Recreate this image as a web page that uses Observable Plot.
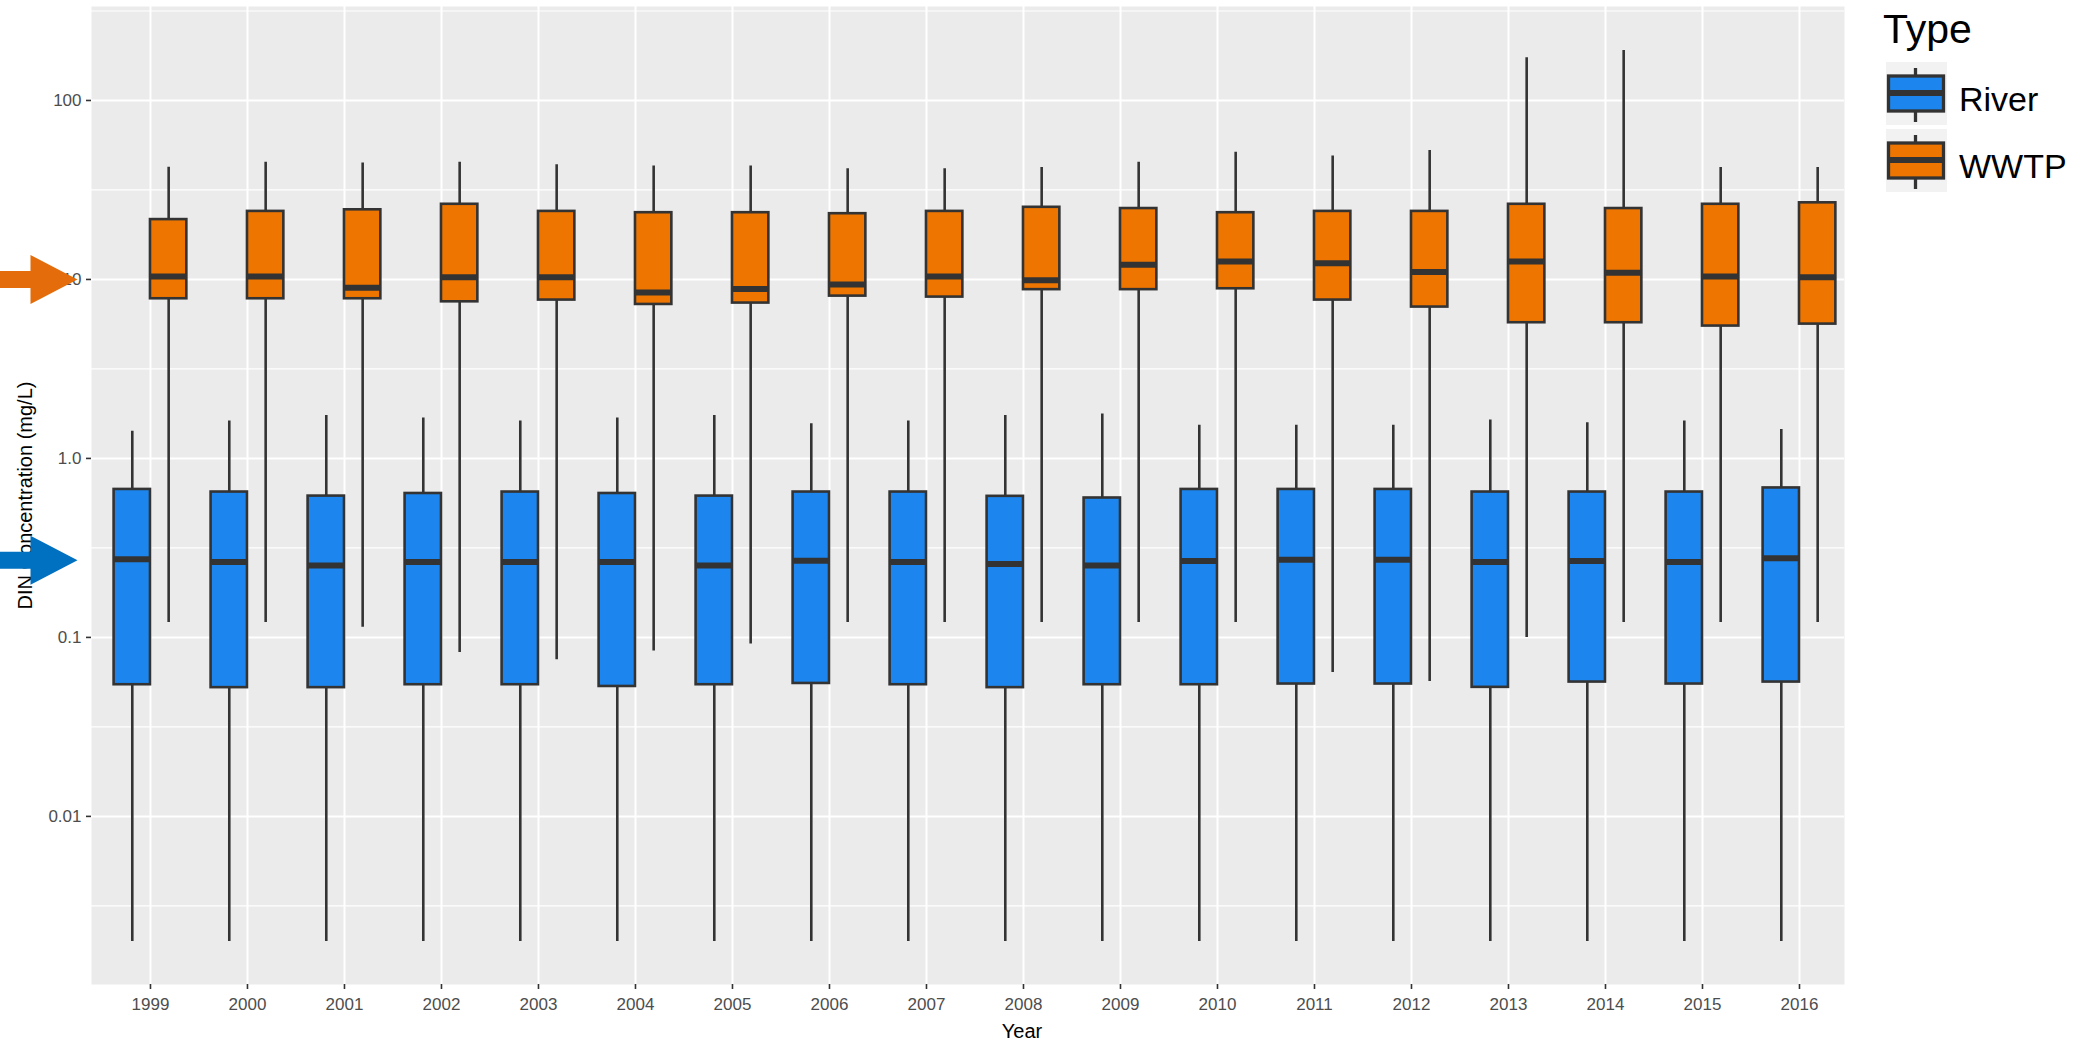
<!DOCTYPE html>
<html>
<head>
<meta charset="utf-8">
<script src="https://cdn.jsdelivr.net/npm/d3@7"></script>
<script src="https://cdn.jsdelivr.net/npm/@observablehq/plot@0.6"></script>
<style>
  body { margin: 0; background: #ffffff; }
  #wrap { position: relative; width: 2084px; height: 1043px; overflow: hidden;
          font-family: "Liberation Sans", Arial, sans-serif; }
</style>
</head>
<body>
<div id="wrap"></div>
<script>
// ---------- data ----------
const years = [1999, 2000, 2001, 2002, 2003, 2004, 2005, 2006, 2007, 2008,
               2009, 2010, 2011, 2012, 2013, 2014, 2015, 2016];
const types = ["River", "WWTP"];

const riverLow  = [0.002, 0.002, 0.002, 0.002, 0.002, 0.002, 0.002, 0.002, 0.002,
                   0.002, 0.002, 0.002, 0.002, 0.002, 0.002, 0.002, 0.002, 0.002];
const riverQ1   = [0.0544, 0.0524, 0.0524, 0.0544, 0.0544, 0.0532, 0.0544, 0.0553, 0.0544,
                   0.0524, 0.0544, 0.0544, 0.0549, 0.0549, 0.0526, 0.0563, 0.0549, 0.0563];
const riverMed  = [0.273, 0.264, 0.252, 0.264, 0.264, 0.264, 0.252, 0.268, 0.264,
                   0.257, 0.252, 0.267, 0.272, 0.272, 0.264, 0.267, 0.264, 0.277];
const riverQ3   = [0.671, 0.649, 0.616, 0.637, 0.649, 0.637, 0.616, 0.649, 0.649,
                   0.614, 0.601, 0.671, 0.671, 0.671, 0.649, 0.649, 0.649, 0.684];
const riverHigh = [1.42, 1.62, 1.74, 1.68, 1.62, 1.68, 1.74, 1.56, 1.62,
                   1.74, 1.77, 1.53, 1.53, 1.53, 1.64, 1.58, 1.62, 1.45];

const wwtpLow   = [0.121, 0.121, 0.114, 0.0824, 0.075, 0.084, 0.0918, 0.121, 0.121,
                   0.121, 0.121, 0.121, 0.0636, 0.0567, 0.1, 0.121, 0.121, 0.121];
const wwtpQ1    = [7.8, 7.8, 7.8, 7.5, 7.67, 7.25, 7.38, 8.07, 7.97,
                   8.77, 8.77, 8.87, 7.67, 7.01, 5.73, 5.73, 5.49, 5.63];
const wwtpMed   = [10.4, 10.4, 9.0, 10.3, 10.3, 8.46, 8.84, 9.38, 10.4,
                   9.9, 12.1, 12.6, 12.3, 11.0, 12.6, 10.9, 10.4, 10.3];
const wwtpQ3    = [21.6, 24.0, 24.5, 26.3, 24.0, 23.6, 23.6, 23.3, 24.0,
                   25.3, 24.9, 23.6, 24.0, 24.0, 26.3, 24.9, 26.3, 26.8];
const wwtpHigh  = [42.4, 45.2, 44.7, 45.2, 43.7, 43.0, 43.0, 41.5, 41.5,
                   42.2, 45.2, 51.4, 48.9, 52.6, 173, 190, 42.2, 42.2];

const yTicks      = [0.01, 0.1, 1, 10, 100];
const yTickLabels = ["0.01", "0.1", "1.0", "10", "100"];
const arrowValues = [0.27, 10];          // highlight arrows: River, WWTP
const xTitle = "Year";
const yTitle = "DIN Concentration (mg/L)";
const legendTitle = "Type";

// ---------- styling ----------
const typeColors  = ["#1C86EE", "#EE7600"];
const arrowColors = ["#0070C0", "#E46C0A"];
const dark = "#333333";

// ---------- build table ----------
const rows = [];
years.forEach((year, i) => {
  rows.push({year, type: "River", low: riverLow[i], q1: riverQ1[i], med: riverMed[i], q3: riverQ3[i], high: riverHigh[i]});
  rows.push({year, type: "WWTP",  low: wwtpLow[i],  q1: wwtpQ1[i],  med: wwtpMed[i],  q3: wwtpQ3[i],  high: wwtpHigh[i]});
});

const boxW = 0.375; // dodged box width (in year units)
const bx1 = d => d.type === "River" ? d.year - boxW : d.year;
const bx2 = d => d.type === "River" ? d.year : d.year + boxW;
const bxc = d => d.type === "River" ? d.year - boxW / 2 : d.year + boxW / 2;

const yMinor = [0.001, 0.01, 0.1, 1, 10, 100].map(v => v * Math.sqrt(10));

const arrowSymbol = {
  draw(ctx) {
    ctx.moveTo(-82, -8.5);
    ctx.lineTo(-47, -8.5);
    ctx.lineTo(-47, -24.5);
    ctx.lineTo(0, 0);
    ctx.lineTo(-47, 24.5);
    ctx.lineTo(-47, 8.5);
    ctx.lineTo(-82, 8.5);
    ctx.closePath();
  }
};

const chart = Plot.plot({
  width: 1860,
  height: 1043,
  marginLeft: 91,
  marginRight: 16,
  marginTop: 6,
  marginBottom: 59,
  x: {type: "linear", domain: [1998.392, 2016.464]},
  y: {type: "log", domain: [0.00115, 335]},
  color: {domain: types, range: typeColors},
  style: {
    fontFamily: "'Liberation Sans', Arial, sans-serif",
    fontSize: "17px",
    background: "#ffffff",
    overflow: "visible"
  },
  marks: [
    Plot.frame({fill: "#EBEBEB", stroke: null}),
    Plot.ruleY(yMinor, {stroke: "#ffffff", strokeWidth: 1.2}),
    Plot.ruleY(yTicks, {stroke: "#ffffff", strokeWidth: 2}),
    Plot.ruleX(years, {stroke: "#ffffff", strokeWidth: 2}),
    Plot.ruleX(rows, {x: bxc, y1: "low", y2: "high", stroke: dark, strokeWidth: 2.6}),
    Plot.rect(rows, {x1: bx1, x2: bx2, y1: "q1", y2: "q3", fill: "type", stroke: dark, strokeWidth: 2.6}),
    Plot.ruleY(rows, {y: "med", x1: bx1, x2: bx2, stroke: dark, strokeWidth: 6}),
    Plot.axisX({ticks: years, tickFormat: d => String(d), tickSize: 5, tickPadding: 8,
                stroke: dark, strokeWidth: 1.6, fill: "#4D4D4D", fontSize: 17, label: null}),
    Plot.axisY({ticks: yTicks, tickFormat: d => yTickLabels[yTicks.indexOf(d)], tickSize: 5, tickPadding: 5,
                stroke: dark, strokeWidth: 1.6, fill: "#4D4D4D", fontSize: 17, label: null}),
    Plot.text([xTitle], {text: d => d, frameAnchor: "bottom", dx: 54, dy: 47, fontSize: 20,
                         textAnchor: "middle", lineAnchor: "middle", fill: "#000000"}),
    Plot.text([yTitle], {text: d => d, frameAnchor: "left", dx: -66, rotate: -90, fontSize: 20,
                         textAnchor: "middle", lineAnchor: "middle", fill: "#000000"}),
    ...types.map((t, i) => Plot.dot([arrowValues[i]], {
      y: d => d, frameAnchor: "left", dx: -14, symbol: arrowSymbol,
      fill: arrowColors[i], stroke: "none"
    }))
  ]
});

const wrap = document.getElementById("wrap");
chart.style.position = "absolute";
chart.style.left = "0px";
chart.style.top = "0px";
wrap.appendChild(chart);

// ---------- legend ----------
const leg = d3.create("svg")
  .attr("width", 214).attr("height", 215)
  .style("position", "absolute").style("left", "1870px").style("top", "0px")
  .style("font-family", "'Liberation Sans', Arial, sans-serif");
leg.append("text").attr("x", 13).attr("y", 43).attr("font-size", 41).attr("fill", "#000").text(legendTitle);
types.forEach((t, i) => {
  const top = 62 + i * 67;
  const g = leg.append("g").attr("transform", `translate(16,${top})`);
  g.append("rect").attr("width", 61).attr("height", 63).attr("fill", "#F2F2F2");
  g.append("line").attr("x1", 29.5).attr("x2", 29.5).attr("y1", 6).attr("y2", 60)
    .attr("stroke", dark).attr("stroke-width", 3.3);
  g.append("rect").attr("x", 2.5).attr("y", 14).attr("width", 55).attr("height", 35)
    .attr("fill", typeColors[i]).attr("stroke", dark).attr("stroke-width", 3.3);
  g.append("line").attr("x1", 2.5).attr("x2", 57.5).attr("y1", 31).attr("y2", 31)
    .attr("stroke", dark).attr("stroke-width", 6);
  leg.append("text").attr("x", 89).attr("y", top + 49).attr("font-size", 34).attr("fill", "#000").text(t);
});
wrap.appendChild(leg.node());
</script>
</body>
</html>
